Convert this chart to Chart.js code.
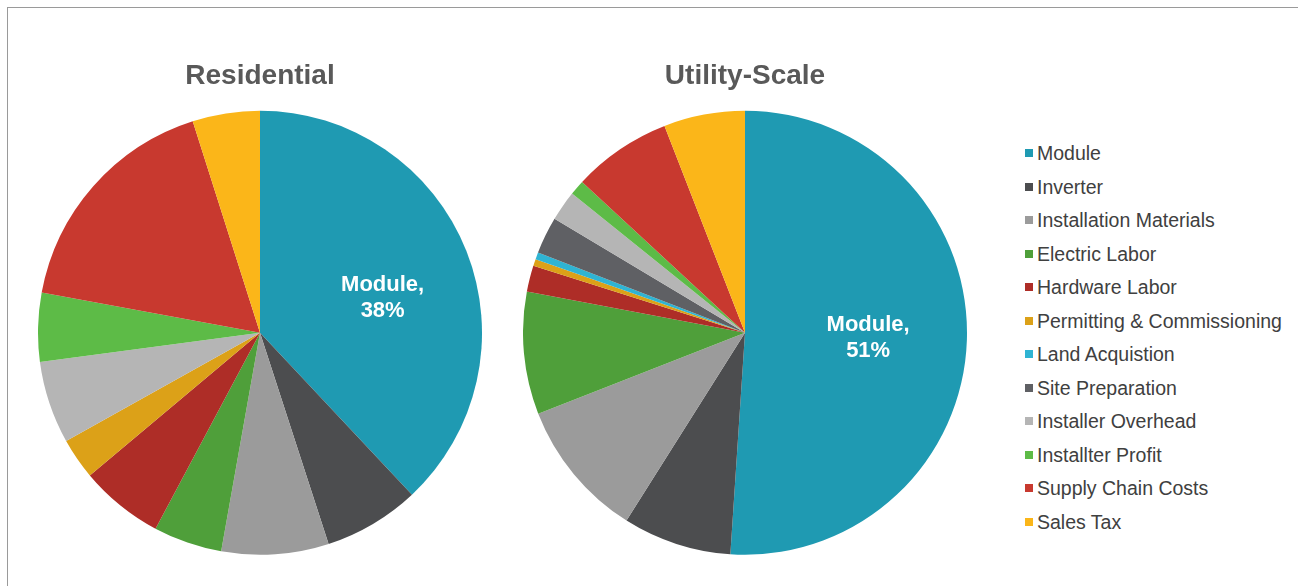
<!DOCTYPE html>
<html>
<head>
<meta charset="utf-8">
<script src="https://cdn.jsdelivr.net/npm/chart.js@4.4.1/dist/chart.umd.min.js"></script>
<style>
  html, body { margin: 0; padding: 0; background: #ffffff; width: 1298px; height: 586px; overflow: hidden; }
  #frame { position: absolute; left: 7px; top: 7px; width: 1296px; height: 600px; border: 1px solid #9a9a9a; box-sizing: border-box; }
  .box { position: absolute; top: 50px; width: 444px; height: 505px; }
  #res { left: 38px; }
  #util { left: 523px; }
  #legend { position: absolute; left: 1025px; top: 0; font-family: "Liberation Sans", Arial, sans-serif; font-size: 19.5px; color: #404040; }
  .item { position: absolute; left: 0; height: 24px; line-height: 24px; white-space: nowrap; }
  .sw { position: absolute; left: 0; top: 8px; width: 8px; height: 8px; }
  .tx { position: absolute; left: 12px; top: 0; }
</style>
</head>
<body>
<div id="frame"></div>
<div class="box" id="res"><canvas id="c1"></canvas></div>
<div class="box" id="util"><canvas id="c2"></canvas></div>
<div id="legend"></div>
<script>
// ---- data ----
const categories = [
  "Module", "Inverter", "Installation Materials", "Electric Labor", "Hardware Labor",
  "Permitting & Commissioning", "Land Acquistion", "Site Preparation", "Installer Overhead",
  "Installter Profit", "Supply Chain Costs", "Sales Tax"
];
const residentialValues = [38.0, 7.0, 7.8, 5.0, 6.1, 3.0, 0, 0, 6.0, 5.0, 17.2, 4.9];
const utilityValues     = [51.0, 7.9, 10.1, 8.9, 1.9, 0.5, 0.5, 2.7, 2.2, 1.1, 7.2, 5.9];
const chartTitles = ["Residential", "Utility-Scale"];
const sliceColors = [
  "#1f9ab2", "#4c4d4f", "#9b9b9b", "#4f9f3a", "#ae2d27", "#dca118",
  "#2fb4d3", "#5f6064", "#b5b5b5", "#5dbb47", "#c8392f", "#fbb619"
];

// ---- label plugin (labels the first slice) ----
const moduleLabel = {
  id: 'moduleLabel',
  afterDatasetsDraw(chart, args, opts) {
    const meta = chart.getDatasetMeta(0);
    const arc = meta.data[0];
    if (!arc) return;
    const ds = chart.data.datasets[0].data;
    const total = ds.reduce((a, b) => a + b, 0);
    const pct = Math.round(ds[0] / total * 100);
    const p = arc.getProps(['x', 'y', 'startAngle', 'endAngle', 'outerRadius'], true);
    const mid = (p.startAngle + p.endAngle) / 2;
    const r = p.outerRadius * opts.radiusFrac;
    const cx = p.x + Math.cos(mid) * r + (opts.dx || 0);
    const cy = p.y + Math.sin(mid) * r + (opts.dy || 0);
    const ctx = chart.ctx;
    ctx.save();
    ctx.fillStyle = '#ffffff';
    ctx.font = 'bold 22px "Liberation Sans", Arial, sans-serif';
    ctx.textAlign = 'center';
    ctx.textBaseline = 'middle';
    ctx.fillText(chart.data.labels[0] + ',', cx, cy - 13);
    ctx.fillText(pct + '%', cx, cy + 13);
    ctx.restore();
  }
};

function makePie(canvasId, title, values, labelOpts) {
  return new Chart(document.getElementById(canvasId), {
    type: 'pie',
    data: {
      labels: categories,
      datasets: [{
        data: values,
        backgroundColor: sliceColors,
        borderWidth: 0,
        hoverOffset: 0,
        offset: 0
      }]
    },
    options: {
      responsive: true,
      maintainAspectRatio: false,
      animation: false,
      events: [],
      layout: { padding: 0 },
      plugins: {
        legend: { display: false },
        tooltip: { enabled: false },
        title: {
          display: true,
          text: title,
          color: '#595959',
          font: { family: '"Liberation Sans", Arial, sans-serif', size: 28, weight: 'bold', lineHeight: 1.2 },
          padding: { top: 9, bottom: 18 }
        },
        moduleLabel: labelOpts
      }
    },
    plugins: [moduleLabel]
  });
}

makePie('c1', chartTitles[0], residentialValues, { radiusFrac: 0.57, dx: 5, dy: 12 });
makePie('c2', chartTitles[1], utilityValues, { radiusFrac: 0.555, dx: 0, dy: 1 });

// ---- legend ----
const legend = document.getElementById('legend');
categories.forEach((name, i) => {
  const it = document.createElement('div');
  it.className = 'item';
  it.style.top = (153.3 + i * 33.5 - 12) + 'px';
  const sw = document.createElement('div');
  sw.className = 'sw';
  sw.style.background = sliceColors[i];
  const tx = document.createElement('div');
  tx.className = 'tx';
  tx.textContent = name;
  it.appendChild(sw);
  it.appendChild(tx);
  legend.appendChild(it);
});
</script>
</body>
</html>
